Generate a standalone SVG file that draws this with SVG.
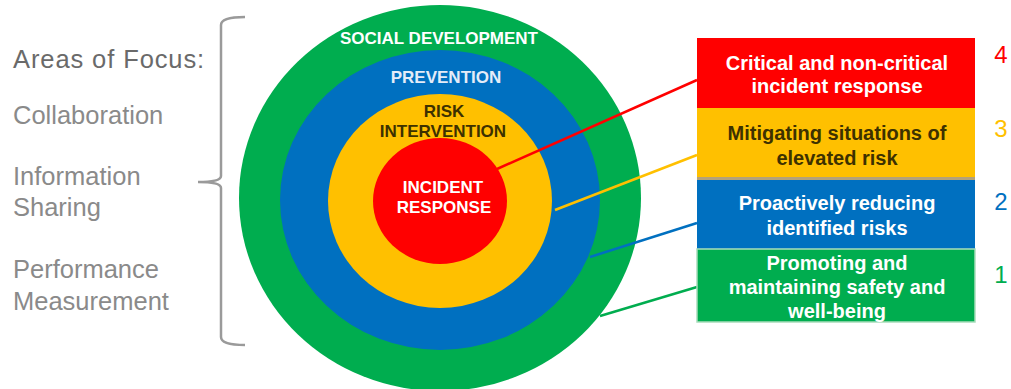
<svg xmlns="http://www.w3.org/2000/svg" width="1011" height="389" viewBox="0 0 1011 389">
<style>
text{font-family:"Liberation Sans",Arial,sans-serif}
.lt{font-size:25.5px;fill:#8a8a8a}
.ring{font-size:17px;font-weight:bold;text-anchor:middle}
.bx{font-size:20px;font-weight:bold;text-anchor:middle}
.num{font-size:24px;text-anchor:middle}
.con{fill:none;stroke-width:2.5}
</style>
<rect width="1011" height="389" fill="#fff"/>
<g id="focus">
<text class="lt" x="13" y="68" style="fill:#6a6a6a;letter-spacing:0.9px">Areas of Focus:</text>
<text class="lt" x="13" y="124">Collaboration</text>
<text class="lt" x="13" y="185">Information</text>
<text class="lt" x="13" y="216">Sharing</text>
<text class="lt" x="13" y="278">Performance</text>
<text class="lt" x="13" y="310">Measurement</text>
</g>
<g id="bracket">
<path d="M245,17 Q221,17 221,25 L221,176 Q221,182 198,182 Q221,182 221,188 L221,337 Q221,345 245,345" fill="none" stroke="#9a9a9a" stroke-width="2.5"/>
</g>
<g id="ring-social">
<ellipse cx="440" cy="198" rx="201" ry="193" fill="#00AD4F"/>
<text class="ring" x="439" y="44" fill="#fff">SOCIAL DEVELOPMENT</text>
</g>
<g id="ring-prevention">
<ellipse cx="440" cy="200" rx="160" ry="150" fill="#0070C0"/>
<text class="ring" x="446" y="83" fill="#E4ECF8">PREVENTION</text>
</g>
<g id="ring-risk">
<ellipse cx="440" cy="201" rx="112" ry="107" fill="#FFC000"/>
<text class="ring" x="444" y="117" fill="#3d3100">RISK</text>
<text class="ring" x="443" y="137" fill="#3d3100">INTERVENTION</text>
</g>
<g id="ring-incident">
<ellipse cx="440" cy="201" rx="67" ry="63" fill="#FF0000"/>
<text class="ring" x="443" y="193" fill="#fff">INCIDENT</text>
<text class="ring" x="444" y="213" fill="#fff">RESPONSE</text>
</g>
<g id="connectors">
<line class="con" x1="497" y1="169" x2="697" y2="80" stroke="#FF0000"/>
<line class="con" x1="555" y1="210" x2="697" y2="155" stroke="#FFC000"/>
<line class="con" x1="590" y1="257" x2="697" y2="223" stroke="#0070C0"/>
<line class="con" x1="600" y1="316" x2="697" y2="287" stroke="#00AD4F"/>
</g>
<g id="box-4">
<rect x="697" y="38" width="278" height="70" fill="#FF0000"/>
<text class="bx" x="837" y="70" fill="#fff">Critical and non-critical</text>
<text class="bx" x="837" y="93" fill="#fff">incident response</text>
<text class="num" x="1001" y="63" fill="#FF0000">4</text>
</g>
<g id="box-3">
<rect x="697" y="108" width="278" height="70" fill="#FFC000"/>
<rect x="697" y="177" width="278" height="3" fill="#B4A27A"/>
<text class="bx" x="837" y="140" fill="#3d3100">Mitigating situations of</text>
<text class="bx" x="837" y="165" fill="#3d3100">elevated risk</text>
<text class="num" x="1001" y="137" fill="#FFC000">3</text>
</g>
<g id="box-2">
<rect x="697" y="180" width="278" height="69" fill="#0070C0"/>
<text class="bx" x="837" y="210" fill="#fff">Proactively reducing</text>
<text class="bx" x="837" y="235" fill="#fff">identified risks</text>
<text class="num" x="1001" y="210" fill="#0070C0">2</text>
</g>
<g id="box-1">
<rect x="697" y="249" width="278" height="73" fill="#00AD4F" stroke="#A8DDBA" stroke-width="1.5"/>
<text class="bx" x="837" y="270" fill="#fff">Promoting and</text>
<text class="bx" x="837" y="294" fill="#fff">maintaining safety and</text>
<text class="bx" x="837" y="318" fill="#fff">well-being</text>
<text class="num" x="1001" y="283" fill="#00AD4F">1</text>
</g>
</svg>
